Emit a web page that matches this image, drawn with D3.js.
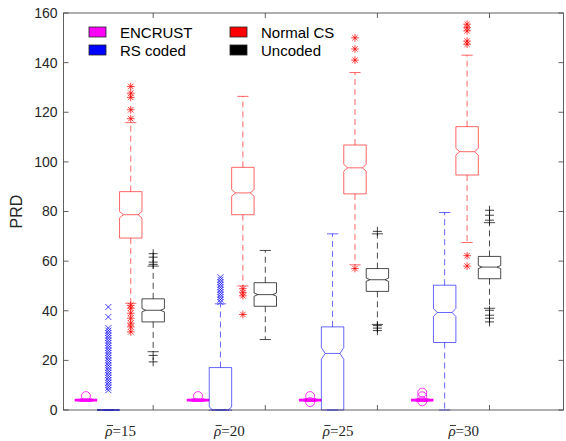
<!DOCTYPE html>
<html>
<head>
<meta charset="utf-8">
<script src="https://cdn.jsdelivr.net/npm/d3@7"></script>
<style>
  body { margin: 0; background: #fff; }
  text { font-family: Arial, "Liberation Sans", sans-serif; }
</style>
</head>
<body>
<div class="canvas"></div>
<script>

// groups (rho bar values) and series
const groups = ['15', '20', '25', '30'];
const seriesNames = ['ENCRUST', 'RS coded', 'Normal CS', 'Uncoded'];
const yTicks = [0, 20, 40, 60, 80, 100, 120, 140, 160];

// box stats per group: [lower whisker, q1, median, q3, upper whisker]
const encrustStats = [[4, 4, 4, 4, 4], [4, 4, 4, 4, 4], [4, 4, 4, 4, 4], [4, 4, 4, 4, 4]];
const rsStats = [[0, 0, 0, 0, 0], [0, 0, 0, 17.1, 42.8], [0, 0, 22.8, 33.5, 71], [0, 27.2, 39.3, 50.3, 79.6]];
const csStats = [[43, 69.3, 78.7, 88.0, 115.8], [50, 78.7, 87.5, 97.8, 126.4], [58.5, 87.1, 97.6, 106.8, 136], [67.5, 94.7, 104.1, 114.2, 143]];
const uncodedStats = [[23.5, 35.5, 40.2, 44.8, 58], [28.4, 41.8, 46.5, 51.3, 64.3], [34.5, 47.8, 52.5, 57, 71], [41, 52.9, 57.6, 61.9, 75.5]];

// outliers per group
const encrustOut = [[5.6], [5.6], [3.2, 5.6], [3.5, 5.5, 7]];
const rsOut = [
  [8, 9, 10, 11, 12, 13, 14, 15, 16, 17, 18, 19, 20, 21, 22, 23, 24, 25, 26, 27, 28, 29, 30, 31, 32, 33, 37.5, 41.5],
  [43.5, 44.5, 45.5, 46.5, 47.5, 48.5, 49.5, 50.5, 51.5, 52.5, 53.5],
  [],
  []
];
const csOut = [
  [31.5, 33.5, 35, 37, 39, 41, 42.2, 117.4, 121, 126, 127.7, 130.4],
  [38.5, 46, 47.3, 48.9],
  [57, 141, 145.5, 150],
  [58, 62.2, 147.4, 148.7, 152.8, 154.1, 155.5]
];
const uncodedOut = [[19.4, 22, 58.7, 59.6, 61.6, 63], [], [32, 33, 34, 72], [35.5, 37, 38.2, 40.2, 76.5, 78.5, 80.5]];

const nSamples = 500;

const series = [
  { name: seriesNames[0], stats: encrustStats, out: encrustOut, color: '#ff00ff', marker: 'o', op: 1, sw: 2.8 },
  { name: seriesNames[1], stats: rsStats, out: rsOut, color: '#0000ff', marker: 'x', op: 0.6, sw: 1 },
  { name: seriesNames[2], stats: csStats, out: csOut, color: '#ff0000', marker: '*', op: 0.6, sw: 1 },
  { name: seriesNames[3], stats: uncodedStats, out: uncodedOut, color: '#000000', marker: '+', op: 0.7, sw: 1 }
];

const W = 566, H = 441;
const svg = d3.select('.canvas')
  .append('svg')
    .attr('width', W)
    .attr('height', H);

const x = d3.scaleLinear().domain([0, 22.3]).range([63.5, 563.5]);
const y = d3.scaleLinear().domain([0, 160]).range([410, 13]);

// position of box k (0..3) in group g
const pos = (g, k) => g * 5 + k + 1;
const tickPos = groups.map((d, g) => pos(g, 3));
const labelShift = [0.05, -0.1, -0.25, 0.35];

svg.append('clipPath').attr('id', 'clip')
  .append('rect')
    .attr('x', x(0)).attr('y', y(160))
    .attr('width', x(22.3) - x(0)).attr('height', y(0) - y(160) + 1);

const plot = svg.append('g').attr('clip-path', 'url(#clip)');

const markers = {
  'x': 'M-3,-3L3,3M-3,3L3,-3',
  '*': 'M-3.8,0H3.8M0,-3.8V3.8M-2.7,-2.7L2.7,2.7M-2.7,2.7L2.7,-2.7',
  '+': 'M-4.5,0H4.5M0,-4.5V4.5'
};

series.forEach((s, k) => {
  s.stats.forEach((st, g) => {
    const [lo, q1, med, q3, hi] = st;
    const p = pos(g, k);
    const cx = x(p);
    const hw = (x(p + 0.5) - x(p - 0.5)) / 2;
    const ins = hw * 0.34;
    const notch = 1.57 * (q3 - q1) / Math.sqrt(nSamples);
    const capW = hw * 0.5;
    const grp = plot.append('g')
      .attr('stroke', s.color)
      .attr('stroke-opacity', s.op)
      .attr('fill', 'none')
      .attr('stroke-width', s.sw);

    // whiskers
    grp.append('line')
      .attr('x1', cx).attr('x2', cx)
      .attr('y1', y(q3)).attr('y2', y(hi))
      .attr('stroke-dasharray', '6,4');
    grp.append('line')
      .attr('x1', cx).attr('x2', cx)
      .attr('y1', y(q1)).attr('y2', y(lo))
      .attr('stroke-dasharray', '6,4');
    grp.append('line')
      .attr('x1', cx - capW).attr('x2', cx + capW)
      .attr('y1', y(hi)).attr('y2', y(hi));
    grp.append('line')
      .attr('x1', cx - capW).attr('x2', cx + capW)
      .attr('y1', y(lo)).attr('y2', y(lo));

    // notched box
    const pts = [
      [cx - hw, y(q3)], [cx + hw, y(q3)], [cx + hw, y(med + notch)], [cx + hw - ins, y(med)],
      [cx + hw, y(med - notch)], [cx + hw, y(q1)], [cx - hw, y(q1)], [cx - hw, y(med - notch)],
      [cx - hw + ins, y(med)], [cx - hw, y(med + notch)]
    ];
    grp.append('path').attr('d', d3.line()(pts) + 'Z');
    grp.append('line')
      .attr('x1', cx - hw + ins).attr('x2', cx + hw - ins)
      .attr('y1', y(med)).attr('y2', y(med));

    // outliers
    const outs = plot.append('g').attr('stroke', s.color).attr('fill', 'none');
    if (s.marker === 'o') {
      outs.selectAll('circle')
        .data(s.out[g])
        .enter()
        .append('circle')
          .attr('cx', cx).attr('cy', d => y(d)).attr('r', 4.5)
          .attr('stroke-opacity', 0.8);
    } else {
      outs.selectAll('path')
        .data(s.out[g])
        .enter()
        .append('path')
          .attr('d', markers[s.marker])
          .attr('transform', d => `translate(${cx},${y(d)})`)
          .attr('stroke-opacity', 0.75);
    }
  });
});

// axes frame
const axisColor = '#3a3a3a';
const frame = svg.append('g').attr('stroke', axisColor).attr('stroke-width', 0.8).attr('fill', 'none');
frame.append('rect')
  .attr('x', x(0)).attr('y', y(160))
  .attr('width', x(22.3) - x(0)).attr('height', y(0) - y(160));

yTicks.forEach(t => {
  frame.append('line').attr('x1', x(0)).attr('x2', x(0) + 5).attr('y1', y(t)).attr('y2', y(t));
  frame.append('line').attr('x1', x(22.3)).attr('x2', x(22.3) - 5).attr('y1', y(t)).attr('y2', y(t));
});
tickPos.forEach(t => {
  frame.append('line').attr('x1', x(t)).attr('x2', x(t)).attr('y1', y(0)).attr('y2', y(0) - 5);
  frame.append('line').attr('x1', x(t)).attr('x2', x(t)).attr('y1', y(160)).attr('y2', y(160) + 5);
});

svg.selectAll('.ytick')
  .data(yTicks)
  .enter()
  .append('text')
    .attr('class', 'ytick')
    .attr('x', x(0) - 6)
    .attr('y', d => y(d))
    .attr('dy', '0.35em')
    .attr('text-anchor', 'end')
    .attr('font-size', 14)
    .attr('fill', '#262626')
    .text(d => d);

svg.append('text')
  .attr('transform', `translate(22,${y(80)}) rotate(-90)`)
  .attr('text-anchor', 'middle')
  .attr('font-size', 16)
  .attr('fill', '#262626')
  .text('PRD');

// x labels: italic rho with a bar drawn over it, then "=value"
const xl = svg.selectAll('.xlab')
  .data(groups)
  .enter()
  .append('text')
    .attr('class', 'xlab')
    .attr('x', (d, g) => x(pos(g, 1) + 0.5 + labelShift[g]))
    .attr('y', 436)
    .attr('text-anchor', 'middle')
    .attr('font-size', 15)
    .attr('fill', '#262626')
    .style('font-family', '"Liberation Serif", "DejaVu Serif", serif');
xl.append('tspan').attr('font-style', 'italic').text('\u03c1');
xl.append('tspan').text(d => '=' + d);

xl.each(function() {
  const a = this.getStartPositionOfChar(0);
  const b = this.getEndPositionOfChar(0);
  svg.append('line')
    .attr('x1', a.x + 1.5).attr('x2', b.x + 0.5)
    .attr('y1', a.y - 10.5).attr('y2', a.y - 10.5)
    .attr('stroke', '#262626').attr('stroke-width', 0.9);
});

// legend
const legPos = [[89, 27], [89, 45], [230, 27], [230, 45]];
const leg = svg.selectAll('.leg')
  .data(series)
  .enter()
  .append('g')
    .attr('class', 'leg')
    .attr('transform', (d, i) => `translate(${legPos[i][0]},${legPos[i][1]})`);
leg.append('rect')
  .attr('width', 17).attr('height', 10)
  .attr('fill', d => d.color)
  .attr('stroke', '#222').attr('stroke-width', 0.8);
leg.append('text')
  .attr('x', 31).attr('y', 10.5)
  .attr('font-size', 15)
  .attr('fill', '#000')
  .text(d => d.name);

</script>
</body>
</html>
